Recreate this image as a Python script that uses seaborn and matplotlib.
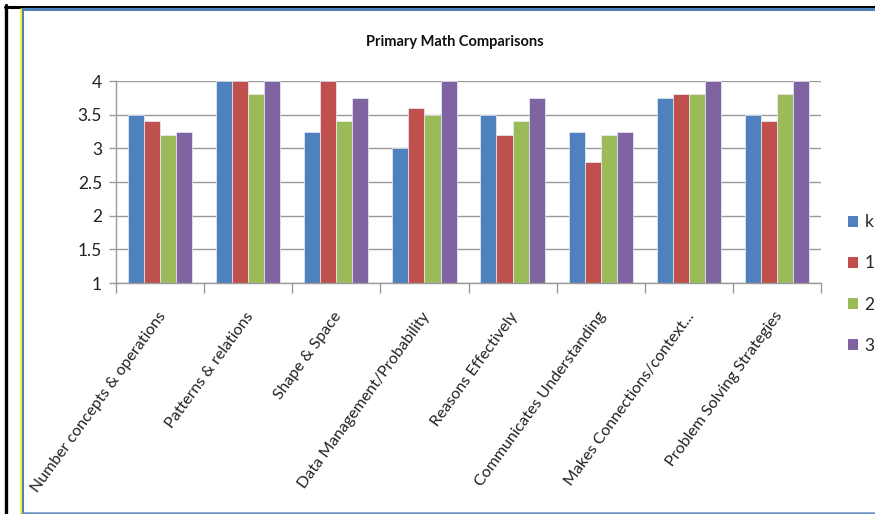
import matplotlib
matplotlib.use("Agg")
import matplotlib.pyplot as plt
from matplotlib.lines import Line2D
from matplotlib.patches import Patch
import matplotlib.transforms as mtransforms
import seaborn as sns
import pandas as pd

categories = [
    "Number concepts & operations",
    "Patterns & relations",
    "Shape & Space",
    "Data Management/Probability",
    "Reasons Effectively",
    "Communicates Understanding",
    "Makes Connections/context...",
    "Problem Solving Strategies",
]
grades = ["k", "1", "2", "3"]
k_scores = [3.5, 4.0, 3.25, 3.0, 3.5, 3.25, 3.75, 3.5]
grade1_scores = [3.4, 4.0, 4.0, 3.6, 3.2, 2.8, 3.8, 3.4]
grade2_scores = [3.2, 3.8, 3.4, 3.5, 3.4, 3.2, 3.8, 3.8]
grade3_scores = [3.25, 4.0, 3.75, 4.0, 3.75, 3.25, 4.0, 4.0]
y_ticks = [1, 1.5, 2, 2.5, 3, 3.5, 4]
y_tick_labels = ["1", "1.5", "2", "2.5", "3", "3.5", "4"]

colors = ["#4F81BD", "#C0504D", "#9BBB59", "#8064A2"]

rows = []
for g, vals in zip(grades, [k_scores, grade1_scores, grade2_scores, grade3_scores]):
    for c, v in zip(categories, vals):
        rows.append({"category": c, "grade": g, "score": v})
df = pd.DataFrame(rows)

sns.set_theme(style="white")
plt.rcParams["font.family"] = ["Lato", "DejaVu Sans"]

fig = plt.figure(figsize=(8.75, 5.14), dpi=100)
ax = fig.add_axes([116 / 875, 1 - 283 / 514, (821 - 116) / 875, (283 - 81) / 514])

sns.barplot(
    data=df, x="category", y="score", hue="grade", order=categories,
    hue_order=grades, palette=colors, width=0.73, ax=ax,
    edgecolor="#e8eef7", linewidth=0.5, legend=False, saturation=1,
)
# bars rise from the axis floor at 1
for p in ax.patches:
    h = p.get_height()
    p.set_y(1)
    p.set_height(h - 1)

ax.set_ylim(1, 4)
ax.set_xlim(-0.5, len(categories) - 0.5)
ax.set_xlabel("")
ax.set_ylabel("")

ax.set_yticks(y_ticks)
ax.set_yticklabels(y_tick_labels, fontsize=12.5, color="#222222")
ax.yaxis.grid(True, color="#9a9a9a", linewidth=1)
ax.set_axisbelow(True)
ax.tick_params(axis="y", length=5, width=1, color="#9a9a9a", pad=5, left=True)

ax.set_xticks(range(len(categories)))
ax.set_xticks([i - 0.5 for i in range(len(categories) + 1)], minor=True)
ax.tick_params(axis="x", which="major", length=0, pad=19)
ax.tick_params(axis="x", which="minor", length=7, width=1, color="#9a9a9a", bottom=True)
ax.set_xticklabels(categories, rotation=54, ha="right", va="top",
                   rotation_mode="anchor", fontsize=11.5, color="#222222")
offset = mtransforms.ScaledTranslation(-3 / 100, 0, fig.dpi_scale_trans)
for lbl in ax.get_xticklabels():
    lbl.set_transform(lbl.get_transform() + offset)

for side in ["top", "right"]:
    ax.spines[side].set_visible(False)
for side in ["left", "bottom"]:
    ax.spines[side].set_color("#9a9a9a")
    ax.spines[side].set_linewidth(1)

fig.text(455 / 875, 1 - 42 / 514, "Primary Math Comparisons", ha="center",
         va="center", fontsize=10.5, fontweight="bold", color="#111111")

handles = [Patch(facecolor=c, edgecolor="none") for c in colors]
fig.legend(handles, grades, loc="center left",
           bbox_to_anchor=(848 / 875, 1 - 284 / 514), frameon=False,
           fontsize=12.5, handlelength=0.6, handleheight=0.6, handletextpad=0.35,
           labelspacing=1.45, borderpad=0, borderaxespad=0)

# outer frame
W, H = 875, 514
def hline(y, x0, x1, color, lw):
    fig.add_artist(Line2D([x0 / W, x1 / W], [1 - y / H, 1 - y / H], color=color, lw=lw))
def vline(x, y0, y1, color, lw):
    fig.add_artist(Line2D([x / W, x / W], [1 - y0 / H, 1 - y1 / H], color=color, lw=lw))

hline(6.5, 5, 875, "black", 2.2)
vline(6, 5, 514, "black", 2.4)
hline(9, 22, 875, "#4F81BD", 2.2)
vline(20.5, 9, 514, "#FFF200", 1.2)
vline(22.5, 9, 514, "#4F81BD", 1.5)
hline(512.5, 22, 875, "#6A93C8", 1.8)

fig.savefig("out.png", dpi=100)
